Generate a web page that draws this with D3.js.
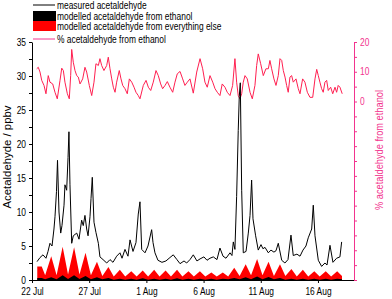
<!DOCTYPE html>
<html>
<head>
<meta charset="utf-8">
<script src="https://cdn.jsdelivr.net/npm/d3@7"></script>
<style>
  body { margin: 0; background: #fff; }
  svg { font-family: "Liberation Sans", Arial, sans-serif; }
</style>
</head>
<body>
<div id="chart"></div>
<script>
// times are in days after 22 Jul 00:00
const measT = [0.44,0.70,0.96,1.22,1.40,1.57,1.75,1.92,2.01,2.14,2.23,2.36,2.51,2.62,2.80,2.88,3.03,3.15,3.23,3.32,3.47,3.61,3.91,4.11,4.34,4.48,4.63,4.78,4.90,5.07,5.16,5.27,5.42,5.59,5.80,5.94,6.21,6.53,6.82,7.08,7.40,7.69,7.87,8.13,8.39,8.57,8.83,9.09,9.29,9.44,9.59,9.88,10.14,10.46,10.58,10.75,11.01,11.36,11.71,12.06,12.35,12.67,12.94,13.29,13.52,13.81,14.10,14.42,14.69,15.03,15.30,15.56,15.85,16.17,16.43,16.70,16.96,17.31,17.48,17.60,17.74,17.89,18.03,18.12,18.21,18.33,18.47,18.71,18.91,19.06,19.20,19.32,19.55,19.78,20.02,20.19,20.37,20.66,20.89,21.15,21.33,21.53,21.83,22.11,22.38,22.64,22.84,23.16,23.43,23.69,23.95,24.15,24.45,24.59,24.74,25.03,25.32,25.61,25.79,26.05,26.31,26.63,26.92,27.07];
const measured = [2.7,3.3,3.7,3.2,4.2,5.4,5.0,7.5,9.3,13,17.6,10,6.9,8,11,14,13.2,18,21.8,14,5.4,6.5,6.9,6,8.8,8,9.5,7.5,6.5,9.3,12,15.1,8.5,7,5.4,3.4,3.0,2.5,3.0,2.6,3.5,4,3.2,4.5,3.5,5.9,4.2,5.5,9.7,11.5,4.5,4.0,5.0,7.4,5.5,4.0,2.9,2.6,2.8,3.3,3.7,3.0,2.4,2.8,2.5,3.0,3.7,2.8,3.1,3.4,2.9,3.2,3.4,3.0,4.7,3.5,3.2,4.0,3.6,5.6,4.5,12.3,22,27,29,13.2,4,4.2,6.9,9.5,14.7,9,6.5,4.4,5.2,4.6,4.8,4.0,4.4,4.1,4.3,5.4,2.9,2.5,3.0,6.6,3.6,3.8,3.5,4.4,5.0,6.2,7.5,11,6.5,2.9,2.0,2.5,2.2,5.1,2.6,3.2,3.4,5.6];

const modelT = [0.46,0.85,1.15,1.68,2.15,2.68,3.15,3.68,4.15,4.68,5.15,5.68,6.15,6.68,7.15,7.68,8.15,8.68,9.15,9.68,10.15,10.68,11.15,11.68,12.15,12.68,13.15,13.68,14.15,14.68,15.15,15.68,16.15,16.68,17.15,17.68,18.15,18.68,19.15,19.68,20.15,20.68,21.15,21.68,22.15,22.68,23.15,23.68,24.15,24.68,25.15,25.68,26.15,26.68,27.10];
const modelTotal = [2.0,2.0,0.7,3.5,0.7,4.9,0.8,4.8,0.8,4.0,0.7,2.7,0.6,1.9,0.5,1.5,0.5,1.3,0.5,1.4,0.5,1.5,0.5,1.4,0.5,1.5,0.5,1.3,0.5,1.3,0.5,1.1,0.5,1.1,0.5,1.8,0.6,2.3,0.7,3.1,0.7,2.7,0.6,2.3,0.6,1.6,0.5,1.5,0.5,1.3,0.5,1.3,0.5,1.3,0.6];
const modelEthanol = [0.3,0.3,0.1,0.4,0.1,0.7,0.15,0.7,0.15,0.6,0.1,0.4,0.1,0.3,0.05,0.2,0.05,0.2,0.05,0.25,0.05,0.2,0.05,0.2,0.05,0.25,0.05,0.2,0.05,0.2,0.05,0.2,0.05,0.2,0.1,0.3,0.1,0.4,0.1,0.5,0.1,0.45,0.1,0.3,0.05,0.2,0.05,0.2,0.05,0.2,0.05,0.2,0.05,0.2,0.1];

const pctT = [0.41,0.55,0.70,0.85,1.05,1.22,1.42,1.57,1.81,2.01,2.21,2.45,2.60,2.74,2.88,3.09,3.26,3.38,3.47,3.61,3.76,3.91,4.05,4.20,4.43,4.63,4.78,5.01,5.22,5.42,5.59,5.80,5.94,6.09,6.29,6.53,6.67,6.82,6.97,7.11,7.26,7.40,7.63,7.78,7.93,8.13,8.33,8.51,8.72,8.92,9.09,9.29,9.44,9.73,9.97,10.17,10.38,10.60,10.84,11.04,11.25,11.42,11.63,11.83,12.06,12.30,12.50,12.70,12.94,13.17,13.37,13.58,13.81,14.10,14.40,14.69,14.92,15.12,15.32,15.56,15.80,16.00,16.20,16.43,16.63,16.87,17.07,17.31,17.54,17.74,17.89,18.03,18.18,18.33,18.47,18.62,18.82,19.06,19.26,19.49,19.64,19.78,19.99,20.22,20.45,20.66,20.80,20.95,21.15,21.33,21.53,21.68,21.83,21.97,22.12,22.26,22.40,22.55,22.70,22.84,23.08,23.28,23.43,23.66,23.86,24.07,24.30,24.54,24.74,24.89,25.03,25.17,25.32,25.46,25.61,25.76,25.90,26.11,26.29,26.49,26.63,26.77,26.92,27.12];
const pctEthanol = [11.0,11.5,9.9,7.1,5.4,2.6,8.7,6.5,5.9,3.1,0.9,7.1,11.2,10.4,6.5,2.6,0.9,8.7,17.5,13.2,10.4,8.7,8.2,5.9,7.6,11.5,9.9,5.4,2.0,6.5,12.7,12.1,14.4,12.1,10.4,12.1,14.9,11.0,7.6,4.8,3.1,6.5,10.4,7.6,5.4,4.3,2.6,7.6,6.5,4.8,3.1,2.0,0.9,5.4,7.1,4.8,3.7,6.5,10.4,8.7,5.9,4.3,5.4,6.7,4.8,3.1,6.5,9.3,10.1,7.6,5.4,6.5,7.6,2.8,9.9,14.4,11.0,6.5,4.8,8.7,6.5,4.3,3.1,2.0,5.9,4.8,3.1,2.0,5.4,14.4,6.5,2.0,0.9,2.6,6.5,8.7,7.6,3.1,0.9,5.4,12.1,16.0,12.7,8.7,11.0,11.0,13.8,11.0,7.6,5.4,8.7,14.4,13.8,10.4,8.2,5.4,3.1,8.2,8.7,6.5,7.6,4.3,2.6,7.6,6.5,3.1,1.4,1.4,7.6,10.8,8.7,6.5,4.3,3.1,6.5,7.1,3.7,4.8,2.6,4.8,3.1,5.4,4.8,2.6];

const dateTicks = [0, 5, 10, 15, 20, 25];
const leftTicks = [0, 5, 10, 15, 20, 25, 30, 35];
const rightTicks = [0, 10, 20];
const legendLabels = ['measured acetaldehyde', 'modelled acetaldehyde from ethanol',
  'modelled acetaldehyde from everything else', '% acetaldehyde from ethanol'];

const W = 392, H = 299;
const pink = '#f2348e';
const t0 = new Date(2010, 6, 22);
const day = d => new Date(+t0 + d * 864e5);

const svg = d3.select('#chart').append('svg').attr('width', W).attr('height', H);

const x = d3.scaleTime().domain([t0, day(28.15)]).range([32, 354]);
const yL = d3.scaleLinear().domain([0, 35]).range([280, 42]);
const yR = d3.scaleLinear().domain([-60, 20]).range([280, 42]);

// squeeze text horizontally, the source lettering is narrow
function squish(sel, k) {
  sel.each(function () {
    const w = this.getComputedTextLength();
    d3.select(this).attr('textLength', w * k).attr('lengthAdjust', 'spacingAndGlyphs');
  });
}

const model = modelT.map((t, i) => ({ t: t, tot: modelTotal[i], eth: modelEthanol[i] }));

svg.append('path').datum(model)
  .attr('fill', '#ff0000')
  .attr('d', d3.area().x(d => x(day(d.t))).y0(yL(0)).y1(d => yL(d.tot)));

svg.append('path').datum(model)
  .attr('fill', '#000')
  .attr('d', d3.area().x(d => x(day(d.t))).y0(yL(0)).y1(d => yL(d.eth)));

svg.append('path').datum(pctT.map((t, i) => [t, pctEthanol[i]]))
  .attr('fill', 'none').attr('stroke', '#ff1f50').attr('stroke-width', 1)
  .attr('d', d3.line().x(d => x(day(d[0]))).y(d => yR(d[1])));

svg.append('path').datum(measT.map((t, i) => [t, measured[i]]))
  .attr('fill', 'none').attr('stroke', '#000').attr('stroke-width', 1)
  .attr('d', d3.line().x(d => x(day(d[0]))).y(d => yL(d[1])));

// axes
const gx = svg.append('g').attr('transform', 'translate(0,280)')
  .call(d3.axisBottom(x).tickValues(dateTicks.map(day)).tickFormat(d3.timeFormat('%-d %b'))
    .tickSize(3).tickSizeOuter(0).tickPadding(5));

const gl = svg.append('g').attr('transform', 'translate(32,0)')
  .call(d3.axisLeft(yL).tickValues(d3.range(0, 35.1, 2.5))
    .tickFormat(d => leftTicks.includes(d) ? d : '').tickSize(3).tickSizeOuter(0).tickPadding(3));

const gr = svg.append('g').attr('transform', 'translate(354,0)')
  .call(d3.axisRight(yR).tickValues(d3.range(-60, 20.1, 5))
    .tickFormat(d => rightTicks.includes(d) ? d : '').tickSize(3).tickSizeOuter(0).tickPadding(3));
gr.selectAll('path, line').attr('stroke', pink);
gr.selectAll('text').attr('fill', pink);

[gx, gl, gr].forEach(g => {
  g.selectAll('text').attr('font-size', 10).attr('font-family', '"Liberation Sans", Arial, sans-serif');
  squish(g.selectAll('text'), 0.84);
});

svg.append('text')
  .attr('transform', 'translate(11,157) rotate(-90)')
  .attr('text-anchor', 'middle').attr('font-size', 10.5)
  .attr('textLength', 103).attr('lengthAdjust', 'spacingAndGlyphs')
  .text('Acetaldehyde / ppbv');

svg.append('text')
  .attr('transform', 'translate(383,150) rotate(-90)')
  .attr('text-anchor', 'middle').attr('font-size', 10).attr('fill', pink)
  .attr('textLength', 120).attr('lengthAdjust', 'spacingAndGlyphs')
  .text('% acetaldehyde from ethanol');

// legend
const legY = [5, 16, 26, 39];
const leg = svg.append('g');
leg.append('line').attr('x1', 33).attr('x2', 55).attr('y1', legY[0]).attr('y2', legY[0]).attr('stroke', '#000');
leg.append('rect').attr('x', 33).attr('y', 11).attr('width', 23).attr('height', 10).attr('fill', '#000');
leg.append('rect').attr('x', 33).attr('y', 21).attr('width', 23).attr('height', 10).attr('fill', '#ff0000');
leg.append('line').attr('x1', 33).attr('x2', 55).attr('y1', legY[3]).attr('y2', legY[3]).attr('stroke', pink);
const lt = leg.selectAll('text').data(legendLabels).join('text')
  .attr('x', 57).attr('y', (d, i) => legY[i] + 3.5)
  .attr('font-size', 10).text(d => d);
squish(lt, 0.84);
</script>
</body>
</html>
